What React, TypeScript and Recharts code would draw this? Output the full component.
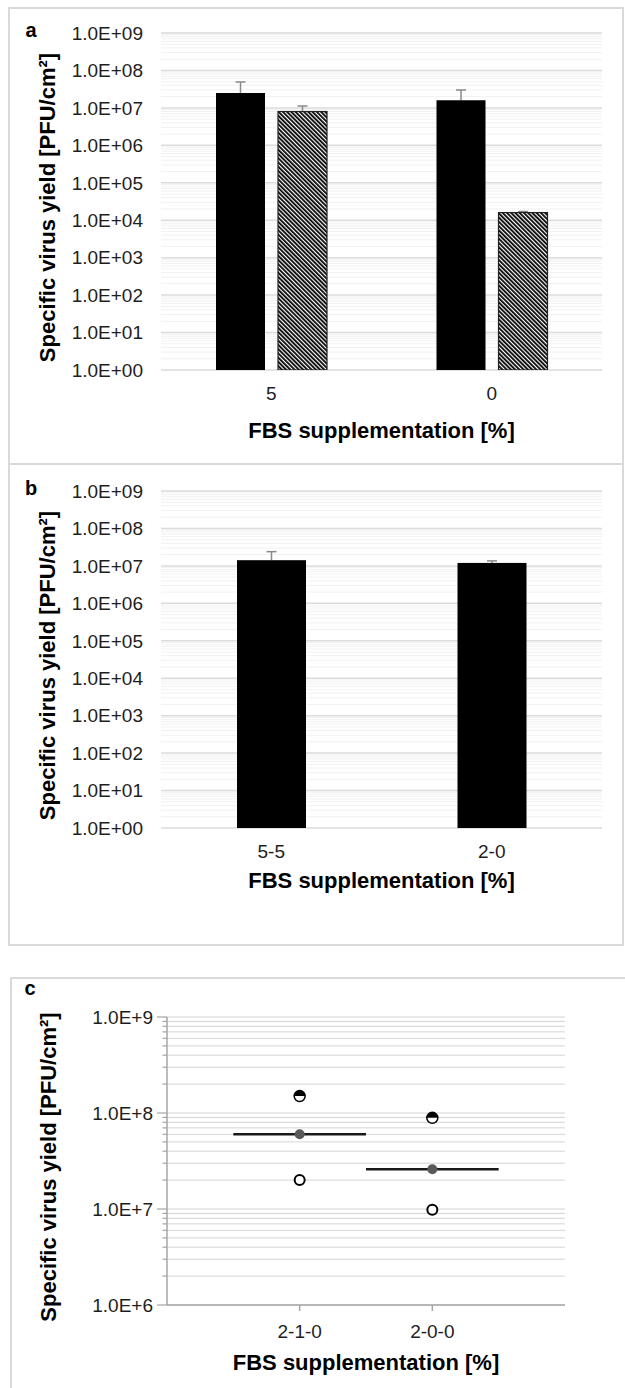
import React from 'react';
import {
  BarChart,
  Bar,
  ComposedChart,
  Scatter,
  XAxis,
  YAxis,
  CartesianGrid,
  ReferenceLine,
} from 'recharts';

// panel a
const groupsA = ['5', '0'];
const solidA = [2.5e7, 1.6e7];
const solidErrA = [2.4e7, 1.4e7];
const hatchedA = [8.0e6, 1.6e4];
const hatchedErrA = [3.3e6, 1.0e3];

// panel b
const groupsB = ['5-5', '2-0'];
const solidB = [1.42e7, 1.2e7];
const solidErrB = [0.98e7, 0.16e7];

// panel c
const groupsC = ['2-1-0', '2-0-0'];
const replicate1C = [1.5e8, 8.9e7];
const replicate2C = [2.0e7, 9.8e6];
const meanC = [6.0e7, 2.6e7];

const ticksAB = [1, 1e1, 1e2, 1e3, 1e4, 1e5, 1e6, 1e7, 1e8, 1e9];
const tickLabelsAB = [
  '1.0E+00', '1.0E+01', '1.0E+02', '1.0E+03', '1.0E+04',
  '1.0E+05', '1.0E+06', '1.0E+07', '1.0E+08', '1.0E+09',
];
const ticksC = [1e6, 1e7, 1e8, 1e9];
const tickLabelsC = ['1.0E+6', '1.0E+7', '1.0E+8', '1.0E+9'];

const xTitle = 'FBS supplementation [%]';
const yTitle = 'Specific virus yield [PFU/cm²]';

const FONT = '"Liberation Sans", Arial, sans-serif';
const TEXT = '#1e1e1e';

// minor log gridlines (2..9 of each decade)
const minorsOf = (majors: number[]) =>
  majors.slice(0, -1).flatMap((m) => [2, 3, 4, 5, 6, 7, 8, 9].map((d) => d * m));

const dataA = groupsA.map((g, i) => ({
  name: g,
  solid: solidA[i],
  solidErr: solidErrA[i],
  hatched: hatchedA[i],
  hatchedErr: hatchedErrA[i],
}));
const dataB = groupsB.map((g, i) => ({ name: g, solid: solidB[i], solidErr: solidErrB[i] }));
const pointsC = (vals: number[]) => vals.map((v, i) => ({ x: i + 1, y: v }));

// bar with an upper whisker drawn behind it (log axis starting at 1)
const WhiskerBar = (props: any) => {
  const { x, y, width, height, fill, stroke, err, val } = props;
  if (!height || height <= 0) return null;
  const bottom = y + height;
  const perDecade = height / Math.log10(val);
  const top = bottom - Math.log10(val + err) * perDecade;
  const cx = x + width / 2;
  return (
    <g>
      <line x1={cx} x2={cx} y1={y} y2={top} stroke="#8a8a8a" strokeWidth={1.5} />
      <line x1={cx - 5} x2={cx + 5} y1={top} y2={top} stroke="#8a8a8a" strokeWidth={1.5} />
      <rect x={x} y={y} width={width} height={height} fill={fill} stroke={stroke} strokeWidth={stroke ? 1.2 : 0} />
    </g>
  );
};

const yTitleContent = (cx: number, shift: number) => (p: any) => {
  const vb = p.viewBox;
  const cy = vb.y + vb.height / 2 + shift;
  return (
    <text
      x={cx}
      y={cy}
      dy="0.36em"
      transform={`rotate(-90 ${cx} ${cy})`}
      textAnchor="middle"
      fontFamily={FONT}
      fontWeight="bold"
      fontSize={22}
      fill="#000"
    >
      {yTitle}
    </text>
  );
};

const xTitleContent = (baseline: number) => (p: any) => {
  const vb = p.viewBox;
  return (
    <text
      x={vb.x + vb.width / 2}
      y={baseline}
      textAnchor="middle"
      fontFamily={FONT}
      fontWeight="bold"
      fontSize={22}
      fill="#000"
    >
      {xTitle}
    </text>
  );
};

const PanelLetter = ({ x, y, t }: { x: number; y: number; t: string }) => (
  <text x={x} y={y} textAnchor="middle" fontFamily={FONT} fontWeight="bold" fontSize={20} fill="#000">
    {t}
  </text>
);

const tickStyle = { fontSize: 19, fill: TEXT, fontFamily: FONT };

const LogBars = ({
  data,
  height,
  margin,
  letter,
  titleBaseline,
  barSize,
  hatched,
}: any) => (
  <BarChart
    width={625}
    height={height}
    data={data}
    margin={margin}
    barSize={barSize}
    barGap={13}
  >
    <defs>
      <pattern id="hatch" width="3" height="3" patternUnits="userSpaceOnUse" patternTransform="rotate(-45)">
        <rect width="3" height="3" fill="#fff" />
        <rect width="1.8" height="3" fill="#000" />
      </pattern>
    </defs>
    <CartesianGrid vertical={false} yAxisId="minor" stroke="#f1f1f1" strokeWidth={1} />
    <CartesianGrid vertical={false} stroke="#dcdcdc" strokeWidth={1.5} />
    <XAxis
      dataKey="name"
      axisLine={false}
      tickLine={false}
      tickSize={0}
      tickMargin={17}
      height={40}
      tick={tickStyle}
      label={{ content: xTitleContent(titleBaseline) }}
    />
    <YAxis
      scale="log"
      type="number"
      domain={[1, 1e9]}
      ticks={ticksAB}
      interval={0}
      allowDataOverflow
      axisLine={false}
      tickLine={false}
      tickSize={0}
      tickMargin={18}
      width={100}
      tick={tickStyle}
      tickFormatter={(v: number) => tickLabelsAB[ticksAB.indexOf(v)]}
      label={{ content: yTitleContent(47, 6) }}
    />
    <YAxis
      yAxisId="minor"
      hide
      scale="log"
      type="number"
      domain={[1, 1e9]}
      ticks={minorsOf(ticksAB)}
      interval={0}
      allowDataOverflow
    />
    <Bar
      dataKey="solid"
      fill="#000"
      isAnimationActive={false}
      shape={(p: any) => <WhiskerBar {...p} val={p.payload.solid} err={p.payload.solidErr} />}
    />
    {hatched && (
      <Bar
        dataKey="hatched"
        fill="url(#hatch)"
        isAnimationActive={false}
        shape={(p: any) => (
          <WhiskerBar {...p} fill="url(#hatch)" stroke="#222" val={p.payload.hatched} err={p.payload.hatchedErr} />
        )}
      />
    )}
    <PanelLetter x={31} y={letter} t={hatched ? 'a' : 'b'} />
  </BarChart>
);

const HalfDot = (p: any) => {
  const { cx, cy } = p;
  const r = 5.5;
  return (
    <g>
      <circle cx={cx} cy={cy} r={r} fill="#fff" />
      <path d={`M ${cx - r} ${cy} A ${r} ${r} 0 0 1 ${cx + r} ${cy} Z`} fill="#000" />
      <circle cx={cx} cy={cy} r={r} fill="none" stroke="#000" strokeWidth={1.5} />
    </g>
  );
};
const OpenDot = (p: any) => (
  <circle cx={p.cx} cy={p.cy} r={5} fill="#fff" stroke="#000" strokeWidth={2} />
);
const MeanDot = (p: any) => <circle cx={p.cx} cy={p.cy} r={5} fill="#595959" />;

const allTicksC = [...ticksC, ...minorsOf(ticksC)].sort((a, b) => a - b);

const TickC = (p: any) => {
  const v = p.payload.value;
  const i = ticksC.indexOf(v);
  const major = i >= 0;
  return (
    <g>
      <line x1={p.x - (major ? 10 : 4.5)} x2={p.x} y1={p.y} y2={p.y} stroke="#a6a6a6" strokeWidth={1.2} />
      {major && (
        <text x={p.x - 14} y={p.y} dy="0.355em" textAnchor="end" fontFamily={FONT} fontSize={19} fill={TEXT}>
          {tickLabelsC[i]}
        </text>
      )}
    </g>
  );
};

const PanelC = () => (
  <ComposedChart width={625} height={411} margin={{ top: 40, right: 60, left: 67, bottom: 53 }}>
    <CartesianGrid vertical={false} stroke="#d4d4d4" strokeWidth={1} />
    <XAxis
      dataKey="x"
      type="number"
      domain={[0, 3]}
      ticks={[1, 2]}
      interval={0}
      tickFormatter={(v: number) => groupsC[v - 1]}
      stroke="#a6a6a6"
      strokeWidth={1.5}
      tickSize={6}
      tickMargin={14}
      height={30}
      tick={tickStyle}
      label={{ content: xTitleContent(392.5) }}
    />
    <YAxis
      dataKey="y"
      scale="log"
      type="number"
      domain={[1e6, 1e9]}
      ticks={allTicksC}
      interval={0}
      allowDataOverflow
      stroke="#a6a6a6"
      strokeWidth={1.5}
      tickLine={false}
      tickSize={0}
      tickMargin={0}
      width={100}
      tick={<TickC />}
      label={{ content: yTitleContent(48, 6) }}
    />
    {groupsC.map((g, i) => (
      <ReferenceLine
        key={g}
        segment={[
          { x: i + 1 - 0.5, y: meanC[i] },
          { x: i + 1 + 0.5, y: meanC[i] },
        ]}
        stroke="#1a1a1a"
        strokeWidth={2.5}
      />
    ))}
    <Scatter data={pointsC(meanC)} isAnimationActive={false} shape={<MeanDot />} />
    <Scatter data={pointsC(replicate1C)} isAnimationActive={false} shape={<HalfDot />} />
    <Scatter data={pointsC(replicate2C)} isAnimationActive={false} shape={<OpenDot />} />
    <PanelLetter x={30} y={18} t="c" />
  </ComposedChart>
);

const box = (left: number, top: number, width: number, height: number): React.CSSProperties => ({
  position: 'absolute',
  left,
  top,
  width,
  height,
  border: '2px solid #dadada',
  boxSizing: 'border-box',
});

export default function App() {
  return (
    <div
      style={{
        position: 'absolute',
        left: 0,
        top: 0,
        width: 625,
        height: 1388,
        overflow: 'hidden',
        background: '#fff',
        fontFamily: FONT,
      }}
    >
      <div style={box(8, 7, 616, 458)} />
      <div style={box(8, 463, 616, 483)} />
      <div style={box(10, 977, 640, 430)} />
      <div style={{ position: 'absolute', left: 0, top: 0 }}>
        <LogBars
          data={dataA}
          height={464}
          margin={{ top: 33, right: 23, left: 61, bottom: 54 }}
          letter={37}
          titleBaseline={437.5}
          barSize={49}
          hatched
        />
      </div>
      <div style={{ position: 'absolute', left: 0, top: 463 }}>
        <LogBars
          data={dataB}
          height={482}
          margin={{ top: 28, right: 23, left: 61, bottom: 77 }}
          letter={32}
          titleBaseline={424.5}
          barSize={69}
        />
      </div>
      <div style={{ position: 'absolute', left: 0, top: 977 }}>
        <PanelC />
      </div>
    </div>
  );
}
